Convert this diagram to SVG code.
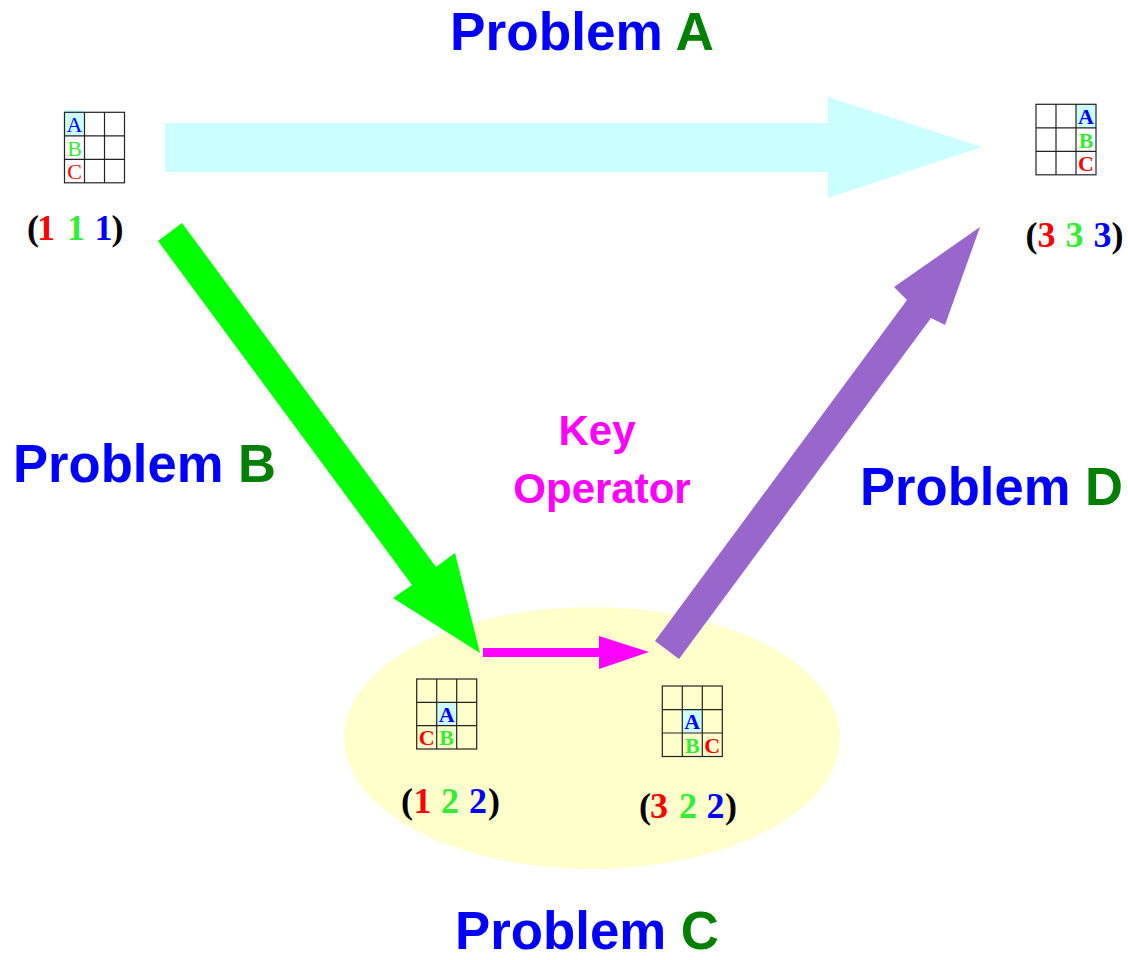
<svg xmlns="http://www.w3.org/2000/svg" width="1128" height="960" viewBox="0 0 1128 960">
<style>
.title{font-family:"Liberation Sans",Arial,sans-serif;font-weight:bold;font-size:53px}
.blue{fill:#0000FF}.dg{fill:#008000}.red{fill:#FF0000}.lg{fill:#33EE33}.blk{fill:#000}
.key{font-family:"Liberation Sans",Arial,sans-serif;font-weight:bold;font-size:42px;fill:#FF00FF;text-anchor:middle}
.tup{font-family:"Liberation Serif","Times New Roman",serif;font-weight:bold;font-size:36px;text-anchor:middle}
.cell{fill:none;stroke:#222;stroke-width:1.2}
.cl{font-family:"Liberation Serif","Times New Roman",serif;font-size:22px;text-anchor:middle}
.clb{font-family:"Liberation Serif","Times New Roman",serif;font-size:22px;font-weight:bold;text-anchor:middle}
</style>
<ellipse cx="592" cy="738" rx="248" ry="131" fill="#FFFFCC"/>
<g id="connectors">
<polygon id="arrowA" points="165,123 828,123 828,97 982,147 828,198 828,172 165,172" fill="#CCFFFF"/>
<polygon id="arrowB" points="182,223 436,567 455,553 480,653 393,598 412,585 158,241" fill="#00FF00"/>
<polygon id="arrowKey" points="483,648 599,648 599,636 649,652 599,669 599,657 483,657" fill="#FF00FF"/>
<polygon id="arrowD" points="655,641 907,300 894,287 980,227 945,325 931,318 679,659" fill="#9966CC"/>
</g>
<g id="titleA"><text class="title" x="450" y="50" textLength="264" lengthAdjust="spacingAndGlyphs"><tspan class="blue">Problem </tspan><tspan class="dg">A</tspan></text></g>
<g id="titleB"><text class="title" x="13" y="482" textLength="263" lengthAdjust="spacingAndGlyphs"><tspan class="blue">Problem </tspan><tspan class="dg">B</tspan></text></g>
<g id="titleC"><text class="title" x="455" y="949" textLength="264" lengthAdjust="spacingAndGlyphs"><tspan class="blue">Problem </tspan><tspan class="dg">C</tspan></text></g>
<g id="titleD"><text class="title" x="860" y="505" textLength="263" lengthAdjust="spacingAndGlyphs"><tspan class="blue">Problem </tspan><tspan class="dg">D</tspan></text></g>
<g id="keyop"><text class="key" x="597" y="445">Key</text><text class="key" x="602" y="503">Operator</text></g>
<g id="state111">
<rect x="64.5" y="110" width="20" height="25" fill="#CCFFFF"/>
<g class="cell">
<rect x="64.5" y="112.3" width="60" height="70.5"/>
<line x1="84.5" y1="112.3" x2="84.5" y2="182.8"/><line x1="104.5" y1="112.3" x2="104.5" y2="182.8"/>
<line x1="64.5" y1="135.8" x2="124.5" y2="135.8"/><line x1="64.5" y1="159.3" x2="124.5" y2="159.3"/>
</g>
<text class="cl blue" x="74.5" y="132">A</text><text class="cl lg" x="74.5" y="156">B</text><text class="cl red" x="74.5" y="179">C</text>
<text class="tup" y="240"><tspan class="blk" x="33">(</tspan><tspan class="red" x="46">1</tspan><tspan class="lg" x="76">1</tspan><tspan class="blue" x="103.5">1</tspan><tspan class="blk" x="117.5">)</tspan></text>
</g>
<g id="state333">
<rect x="1076" y="104.3" width="20" height="23.4" fill="#CCFFFF"/>
<g class="cell">
<rect x="1036" y="104.3" width="60" height="70.5"/>
<line x1="1056" y1="104.3" x2="1056" y2="174.8"/><line x1="1076" y1="104.3" x2="1076" y2="174.8"/>
<line x1="1036" y1="127.8" x2="1096" y2="127.8"/><line x1="1036" y1="151.3" x2="1096" y2="151.3"/>
</g>
<text class="clb blue" x="1086" y="124">A</text><text class="clb lg" x="1086" y="147.5">B</text><text class="clb red" x="1086" y="171">C</text>
<text class="tup" y="247"><tspan class="blk" x="1031.5">(</tspan><tspan class="red" x="1046.5">3</tspan><tspan class="lg" x="1074.5">3</tspan><tspan class="blue" x="1102.5">3</tspan><tspan class="blk" x="1117.5">)</tspan></text>
</g>
<g id="state122">
<rect x="436.7" y="702.3" width="20" height="23.4" fill="#CCFFFF"/>
<g class="cell">
<rect x="416.7" y="679" width="60" height="70"/>
<line x1="436.7" y1="679" x2="436.7" y2="749"/><line x1="456.7" y1="679" x2="456.7" y2="749"/>
<line x1="416.7" y1="702.3" x2="476.7" y2="702.3"/><line x1="416.7" y1="725.7" x2="476.7" y2="725.7"/>
</g>
<text class="clb blue" x="446.7" y="722">A</text><text class="clb red" x="426.7" y="745">C</text><text class="clb lg" x="446.7" y="745">B</text>
<text class="tup" y="813"><tspan class="blk" x="407">(</tspan><tspan class="red" x="422.5">1</tspan><tspan class="lg" x="450">2</tspan><tspan class="blue" x="478">2</tspan><tspan class="blk" x="494">)</tspan></text>
</g>
<g id="state322">
<rect x="682.3" y="709.7" width="20" height="23.4" fill="#CCFFFF"/>
<g class="cell">
<rect x="662.3" y="686" width="60" height="70.5"/>
<line x1="682.3" y1="686" x2="682.3" y2="756.5"/><line x1="702.3" y1="686" x2="702.3" y2="756.5"/>
<line x1="662.3" y1="709.7" x2="722.3" y2="709.7"/><line x1="662.3" y1="733" x2="722.3" y2="733"/>
</g>
<text class="clb blue" x="692.3" y="729">A</text><text class="clb lg" x="692.3" y="752.5">B</text><text class="clb red" x="712.3" y="752.5">C</text>
<text class="tup" y="818"><tspan class="blk" x="645">(</tspan><tspan class="red" x="659">3</tspan><tspan class="lg" x="688">2</tspan><tspan class="blue" x="715.5">2</tspan><tspan class="blk" x="731">)</tspan></text>
</g>
</svg>
